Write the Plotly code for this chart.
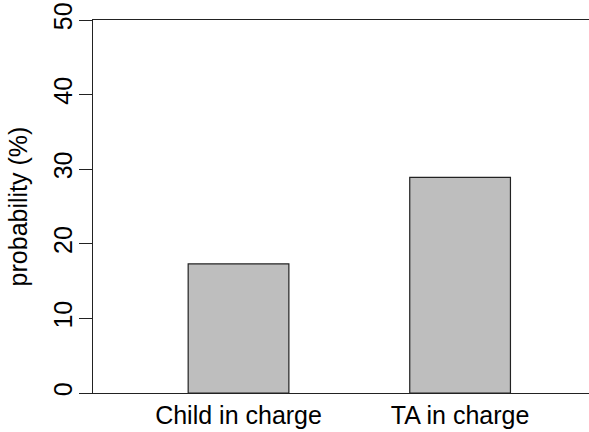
import plotly.graph_objects as go

categories = ["Child in charge", "TA in charge"]
probability = [17.3, 28.9]
y_ticks = [0, 10, 20, 30, 40, 50]

# bar centres spaced like an R barplot (width 1, space 1.2)
positions = [i * 2.2 for i in range(len(categories))]

fig = go.Figure(
    go.Bar(
        x=positions,
        y=probability,
        width=1.0,
        marker=dict(color="#bebebe", line=dict(color="#222222", width=1.2)),
    )
)

font = dict(family="Liberation Sans, Arial, Helvetica, sans-serif", size=25, color="black")

fig.update_layout(
    width=589,
    height=432,
    margin=dict(l=93, r=0, t=20, b=39),
    paper_bgcolor="white",
    plot_bgcolor="white",
    font=font,
    showlegend=False,
    xaxis=dict(
        range=[-1.445, 3.48],
        tickvals=positions,
        ticktext=categories,
        showline=True,
        mirror=True,
        linecolor="#222222",
        linewidth=1.2,
        ticks="",
        showgrid=False,
        zeroline=False,
        tickfont=dict(size=25),
        ticklabelstandoff=0,
    ),
    yaxis=dict(
        range=[0, 50],
        tickvals=y_ticks,
        ticks="outside",
        ticklen=13,
        tickwidth=1.2,
        tickcolor="#222222",
        tickangle=-90,
        showline=True,
        linecolor="#222222",
        linewidth=1.2,
        showgrid=False,
        zeroline=False,
        tickfont=dict(size=25),
        ticklabelstandoff=-3,
        title=dict(text="probability (%)", font=dict(size=25), standoff=14),
    ),
)

fig.write_html("out.html")
